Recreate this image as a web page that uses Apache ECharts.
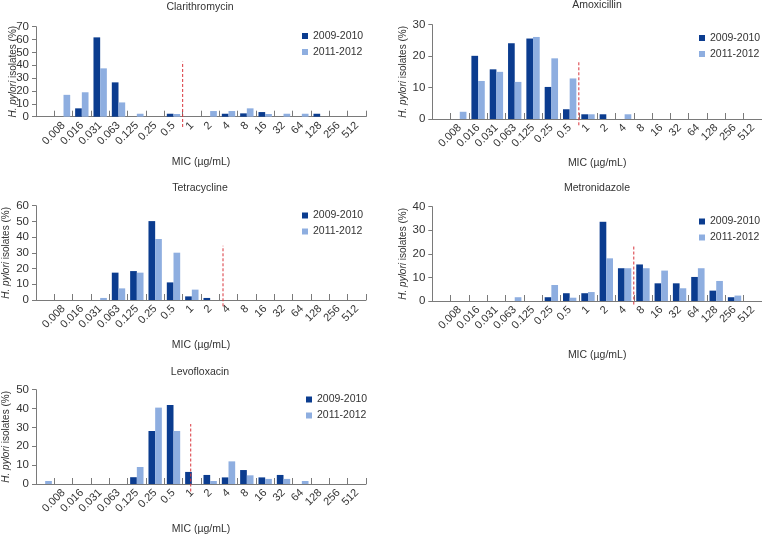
<!DOCTYPE html>
<html><head><meta charset="utf-8">
<script src="https://cdn.jsdelivr.net/npm/echarts@6/dist/echarts.min.js"></script>
<style>html,body{margin:0;padding:0;background:#fff}#c{width:762px;height:545px}</style>
</head><body><div id="c"></div>
<script>
// ---------- DATA ----------
const micLabels = ['0.008','0.016','0.031','0.063','0.125','0.25','0.5','1','2','4','8','16','32','64','128','256','512'];
// first slot of each series = unlabeled slot left of 0.008
const seriesNames = ['2009-2010', '2011-2012'];

const clar2009 = [0, 0, 6.5, 61.7, 26.7, 0, 0, 2.3, 0, 0, 2.3, 2.6, 3.6, 0, 0, 2.3, 0, 0];
const clar2011 = [0, 17, 19, 37.6, 11.1, 2.3, 0, 2.1, 0, 4.4, 4.4, 6.5, 2.1, 2.3, 2.3, 0, 0, 0];

const amox2009 = [0, 0, 20.1, 15.8, 24.1, 25.6, 10.2, 3.1, 1.5, 1.5, 0, 0, 0, 0, 0, 0, 0, 0];
const amox2011 = [0, 2.3, 12.1, 15.0, 11.8, 26.1, 19.3, 12.9, 1.5, 0, 1.5, 0, 0, 0, 0, 0, 0, 0];

const tet2009 = [0, 0, 0, 0, 17.4, 18.4, 50.2, 11.2, 2.3, 1.3, 0, 0, 0, 0, 0, 0, 0, 0];
const tet2011 = [0, 0, 0, 1.3, 7.4, 17.4, 38.8, 30.1, 6.6, 0, 0, 0, 0, 0, 0, 0, 0, 0];

const met2009 = [0, 0, 0, 0, 0, 0, 1.6, 3.3, 3.3, 33.6, 13.9, 15.5, 7.5, 7.5, 10.2, 4.4, 1.6, 0];
const met2011 = [0, 0, 0, 0, 1.6, 0, 6.8, 1.4, 3.8, 18.1, 13.9, 13.9, 12.9, 5.4, 13.9, 8.5, 2.3, 0];

const levo2009 = [0, 0, 0, 0, 0, 3.6, 28.1, 41.9, 6.4, 4.8, 3.5, 7.4, 3.5, 4.8, 0, 0, 0, 0];
const levo2011 = [1.6, 0, 0, 0, 0, 9.0, 40.5, 28.1, 0, 1.6, 12.0, 4.6, 2.7, 2.7, 1.6, 0, 0, 0];

// breakpoint line: [position in slot units, bottom value, top value]
const clarBreak = [8, -8, 42.8];
const amoxBreak = [8, -2, 18.5];
const tetBreak = [10.2, -4, 34.5];
const metBreak = [11.0, -1.5, 23.4];
const levoBreak = [8.44, -4, 31.8];

const yMax = [70, 30, 60, 40, 50];
const titles = ['Clarithromycin', 'Amoxicillin', 'Tetracycline', 'Metronidazole', 'Levofloxacin'];

// ---------- LAYOUT / STYLE ----------
const FONT = "'Liberation Sans','Arial',sans-serif";
const DARK = '#0b3c8f', LIGHT = '#8eaee0', TXT = '#333', AX = '#7a7a7a';
const slotLabels = [''].concat(micLabels);
const ts = (size, extra) => Object.assign({fontFamily: FONT, fontSize: size, fontStyle: 'normal', fontWeight: 'normal', color: TXT}, extra || {});

const panels = [
  {data: [clar2009, clar2011], brk: clarBreak, grid: {left: 36, top: 26.7, width: 330, height: 90}, title: [200, 2], legend: [302, 30], nameGapX: 40, nameGapY: 18},
  {data: [amox2009, amox2011], brk: amoxBreak, grid: {left: 432.3, top: 24.7, width: 330, height: 94.3}, title: [597, 0], legend: [699, 32], nameGapX: 39, nameGapY: 24.5},
  {data: [tet2009, tet2011], brk: tetBreak, grid: {left: 36, top: 205.7, width: 330, height: 94.3}, title: [200, 183], legend: [302, 209.5], nameGapX: 40, nameGapY: 25},
  {data: [met2009, met2011], brk: metBreak, grid: {left: 432.3, top: 206.7, width: 330, height: 94.3}, title: [597, 183], legend: [699, 215.5], nameGapX: 49, nameGapY: 24.5},
  {data: [levo2009, levo2011], brk: levoBreak, grid: {left: 36, top: 389.7, width: 330, height: 94.3}, title: [200, 367], legend: [306, 393.5], nameGapX: 40, nameGapY: 25}
];

const option = {
  animation: false,
  backgroundColor: '#fff',
  textStyle: {fontFamily: FONT},
  title: [], grid: [], xAxis: [], yAxis: [], series: [], legend: []
};

panels.forEach((p, i) => {
  option.grid.push(Object.assign({containLabel: false}, p.grid));
  option.title.push({
    text: titles[i], left: p.title[0], top: p.title[1], textAlign: 'center', padding: 0,
    textStyle: ts(10.5)
  });
  option.legend.push({
    data: seriesNames, orient: 'vertical', left: p.legend[0], top: p.legend[1], padding: 0,
    icon: 'rect', itemWidth: 6, itemHeight: 6, itemGap: 4, selectedMode: false,
    textStyle: ts(10.5, {lineHeight: 12})
  });
  option.xAxis.push({
    type: 'category', gridIndex: i, data: slotLabels, boundaryGap: true,
    name: 'MIC (µg/mL)', nameLocation: 'middle', nameGap: p.nameGapX, nameMoveOverlap: false,
    nameTextStyle: ts(10.5),
    axisLine: {show: true, lineStyle: {color: AX, width: 1}},
    axisTick: {show: true, inside: true, length: 6, interval: 0, lineStyle: {color: AX}},
    axisLabel: Object.assign({rotate: 45, interval: 0, margin: 7}, ts(11)),
    splitLine: {show: false}
  });
  option.xAxis.push({
    type: 'value', gridIndex: i, min: 0, max: slotLabels.length, show: false,
    splitLine: {show: false}
  });
  option.yAxis.push({
    type: 'value', gridIndex: i, min: 0, max: yMax[i], interval: 10,
    name: '{i|H. pylori} isolates (%)', nameLocation: 'middle', nameGap: p.nameGapY, nameRotate: 90,
    nameMoveOverlap: false,
    nameTextStyle: ts(10, {rich: {i: ts(10, {fontStyle: 'italic'})}}),
    axisLine: {show: true, lineStyle: {color: AX, width: 1}},
    axisTick: {show: true, inside: false, length: 4, lineStyle: {color: AX}},
    axisLabel: Object.assign({margin: 7}, ts(11.5)),
    splitLine: {show: false}
  });
  [DARK, LIGHT].forEach((c, k) => {
    option.series.push({
      type: 'bar', name: seriesNames[k], xAxisIndex: 2 * i, yAxisIndex: i,
      data: p.data[k], barGap: '0%', barCategoryGap: '27%',
      itemStyle: {color: c}, silent: true
    });
  });
  option.series.push({
    type: 'line', xAxisIndex: 2 * i + 1, yAxisIndex: i, clip: false, silent: true,
    symbol: 'none', data: [[p.brk[0], p.brk[1]], [p.brk[0], p.brk[2]]],
    lineStyle: {color: '#d9343c', width: 1, type: [3, 2]}
  });
});

const chart = echarts.init(document.getElementById('c'), null, {renderer: 'canvas'});
chart.setOption(option);
</script>
</body></html>
